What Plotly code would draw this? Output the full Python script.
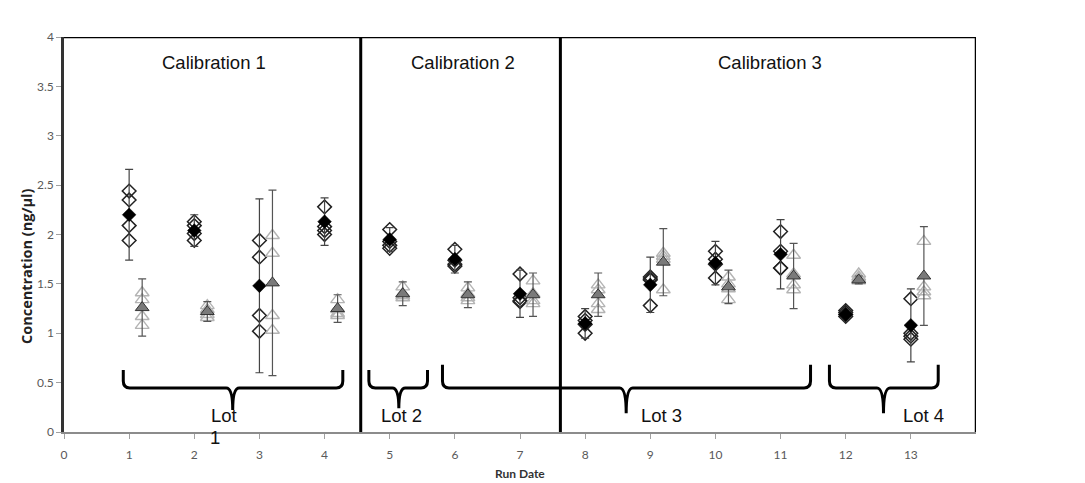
import plotly.graph_objects as go

# Run dates and replicate concentrations (ng/µl)
run_dates = [1, 2, 3, 4, 5, 6, 7, 8, 9, 10, 11, 12, 13]

diamond_reps = [
    [2.44, 2.35, 2.09, 1.94],
    [2.13, 2.09, 2.01, 1.94],
    [1.94, 1.77, 1.18, 1.02],
    [2.28, 2.08, 2.04, 2.00],
    [2.05, 1.93, 1.89, 1.86],
    [1.85, 1.74, 1.70, 1.68],
    [1.60, 1.36, 1.33, 1.32],
    [1.17, 1.13, 1.09, 1.00],
    [1.57, 1.55, 1.54, 1.28],
    [1.83, 1.75, 1.70, 1.56],
    [2.03, 1.83, 1.66, 1.66],
    [1.23, 1.21, 1.19, 1.17],
    [1.35, 1.00, 0.97, 0.94],
]
diamond_mean = [2.20, 2.04, 1.48, 2.13, 1.95, 1.75, 1.40, 1.10, 1.49, 1.71, 1.80, 1.19, 1.08]
diamond_err = [0.46, 0.16, 0.88, 0.24, 0.12, 0.14, 0.24, 0.15, 0.28, 0.22, 0.35, 0.03, 0.37]

triangle_reps = [
    [1.41, 1.34, 1.17, 1.08],
    [1.28, 1.24, 1.19, 1.16],
    [1.99, 1.81, 1.18, 1.03],
    [1.34, 1.24, 1.20, 1.18],
    [1.47, 1.40, 1.38, 1.36],
    [1.46, 1.40, 1.36, 1.33],
    [1.53, 1.40, 1.33, 1.30],
    [1.49, 1.44, 1.30, 1.24],
    [1.81, 1.78, 1.75, 1.44],
    [1.57, 1.50, 1.45, 1.34],
    [1.79, 1.60, 1.49, 1.44],
    [1.60, 1.57, 1.55, 1.53],
    [1.93, 1.47, 1.42, 1.38],
]
triangle_mean = [1.26, 1.22, 1.51, 1.25, 1.40, 1.39, 1.39, 1.39, 1.72, 1.47, 1.58, 1.54, 1.58]
triangle_err = [0.29, 0.10, 0.94, 0.14, 0.12, 0.13, 0.22, 0.22, 0.34, 0.17, 0.33, 0.04, 0.50]

triangle_offset = 0.2

calibration_labels = ["Calibration 1", "Calibration 2", "Calibration 3"]
calibration_x = [2.3, 6.12, 10.83]
calibration_bounds = [4.555, 7.62]

# Lot brackets: (left, right, centre, top of ends, tip)
lot_brackets = [
    (0.91, 4.28, 2.59, 0.628, 0.223),
    (4.68, 5.58, 5.14, 0.628, 0.24),
    (5.81, 11.46, 8.63, 0.68, 0.19),
    (11.75, 13.42, 12.58, 0.68, 0.19),
]
lot_texts = [("Lot", 2.45, 0.172), ("Lot 2", 5.18, 0.172),
             ("Lot 3", 9.17, 0.172), ("Lot 4", 13.20, 0.172)]
bracket_y = 0.446

fig = go.Figure()

# individual replicates
dx, dy, tx, ty = [], [], [], []
for d, reps in zip(run_dates, diamond_reps):
    dx += [d] * len(reps)
    dy += reps
for d, reps in zip(run_dates, triangle_reps):
    tx += [d + triangle_offset] * len(reps)
    ty += reps

fig.add_trace(go.Scatter(
    x=dx, y=dy, mode="markers",
    marker=dict(symbol="diamond-open", size=10.5, color="#222222", line=dict(width=1.5)),
    showlegend=False, hoverinfo="skip"))
fig.add_trace(go.Scatter(
    x=tx, y=ty, mode="markers",
    marker=dict(symbol="triangle-up-open", size=12, color="#b4b4b4", line=dict(width=1.4)),
    showlegend=False, hoverinfo="skip"))

# means with error bars
fig.add_trace(go.Scatter(
    x=run_dates, y=diamond_mean, mode="markers",
    marker=dict(symbol="diamond", size=10.5, color="black", line=dict(width=0.5, color="black")),
    error_y=dict(type="data", array=diamond_err, color="#444444", thickness=1.2, width=4),
    showlegend=False))
fig.add_trace(go.Scatter(
    x=[d + triangle_offset for d in run_dates], y=triangle_mean, mode="markers",
    marker=dict(symbol="triangle-up", size=12, color="#7a7a7a", line=dict(width=1, color="#333333")),
    error_y=dict(type="data", array=triangle_err, color="#555555", thickness=1.2, width=4),
    showlegend=False))

shapes = []
# frame top and right
shapes.append(dict(type="line", xref="x", yref="y", x0=0, x1=14, y0=4, y1=4,
                   line=dict(color="black", width=2.5)))
shapes.append(dict(type="line", xref="x", yref="y", x0=14, x1=14, y0=0, y1=4,
                   line=dict(color="black", width=2.5)))
# calibration dividers
for xb in calibration_bounds:
    shapes.append(dict(type="line", xref="x", yref="y", x0=xb, x1=xb, y0=0, y1=4,
                       line=dict(color="black", width=3)))

# curly brackets under each lot
rx, ry = 0.1, 0.07
for x0, x1, xc, ytop, ytip in lot_brackets:
    yh = bracket_y
    path = (f"M {x0},{ytop} L {x0},{yh + ry} Q {x0},{yh} {x0 + rx},{yh} "
            f"L {xc - rx},{yh} Q {xc},{yh} {xc},{ytip} Q {xc},{yh} {xc + rx},{yh} "
            f"L {x1 - rx},{yh} Q {x1},{yh} {x1},{yh + ry} L {x1},{ytop}")
    shapes.append(dict(type="path", xref="x", yref="y", path=path,
                       line=dict(color="black", width=3)))

label_font = dict(family="Liberation Sans", size=18.5, color="#111111")
annotations = []
for lab, xc in zip(calibration_labels, calibration_x):
    annotations.append(dict(x=xc, y=3.74, xref="x", yref="y", text=lab, showarrow=False,
                            font=label_font))
for txt, xc, yc in lot_texts:
    annotations.append(dict(x=xc, y=yc, xref="x", yref="y", text=txt, showarrow=False,
                            font=label_font))
# the "1" of the first lot label wraps below the axis line
annotations.append(dict(x=2.32, y=-0.015, xref="x", yref="paper", text="1", showarrow=False,
                        xanchor="center", yanchor="middle", font=label_font))
annotations.append(dict(x=-0.0417, y=0.42, xref="paper", yref="paper",
                        text="<b>Concentration (ng/µl)</b>", textangle=-90, showarrow=False,
                        xanchor="center", yanchor="middle",
                        font=dict(family="Open Sans", size=14.5, color="#222222")))
annotations.append(dict(x=0.5, y=-0.104, xref="paper", yref="paper",
                        text="<b>Run Date</b>", showarrow=False,
                        xanchor="center", yanchor="middle",
                        font=dict(family="Lato", size=12, color="#333333")))

fig.update_layout(
    width=1085, height=483,
    margin=dict(l=64, r=109, t=37, b=51),
    plot_bgcolor="white", paper_bgcolor="white",
    shapes=shapes, annotations=annotations,
    xaxis=dict(range=[0, 14], tickvals=list(range(0, 14)), showgrid=False, zeroline=False,
               showline=True, linecolor="#8c8c8c", linewidth=2, automargin=False,
               ticks="outside", ticklen=5, tickcolor="#a0a0a0", ticklabelstandoff=6,
               tickfont=dict(family="Lato", size=12, color="#595959")),
    yaxis=dict(range=[0, 4], tickvals=[0, 0.5, 1, 1.5, 2, 2.5, 3, 3.5, 4],
               ticktext=["0", "0.5", "1", "1.5", "2", "2.5", "3", "3.5", "4"],
               showgrid=False, zeroline=False, automargin=False,
               showline=True, linecolor="#333333", linewidth=2.5,
               ticks="outside", ticklen=5, tickcolor="#a0a0a0",
               tickfont=dict(family="Lato", size=12, color="#595959")),
)

fig.write_html("out.html")
